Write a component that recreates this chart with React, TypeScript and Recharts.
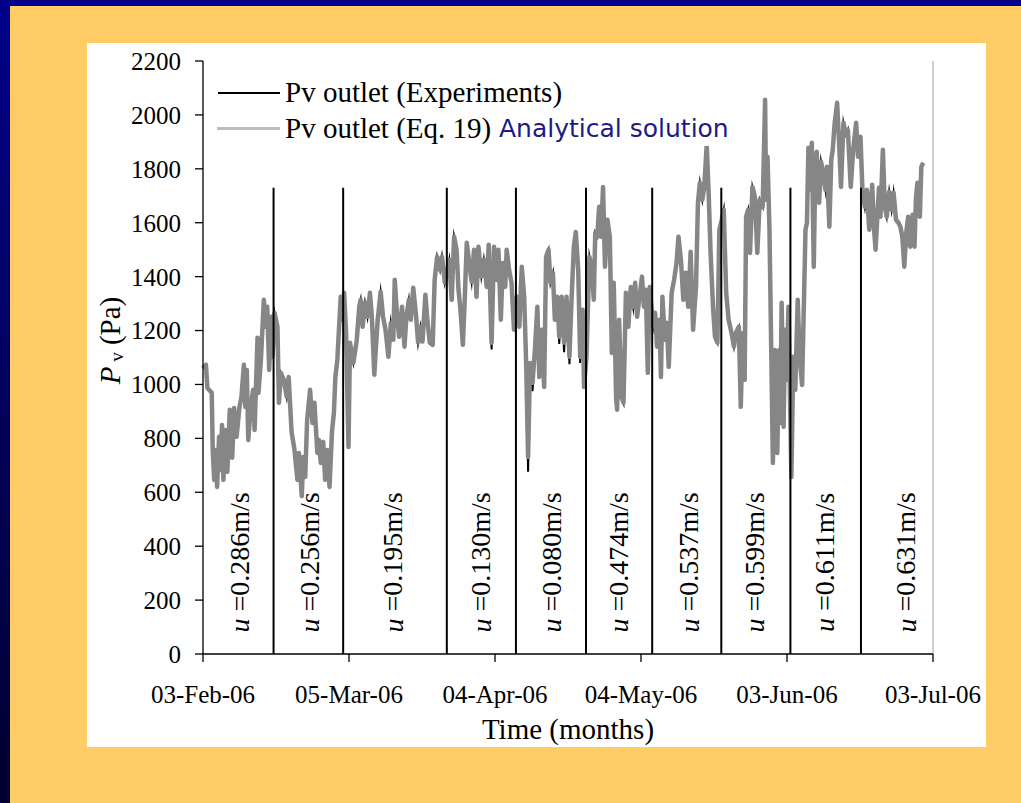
import { LineChart, Line, XAxis, YAxis, ReferenceLine, ReferenceDot, Legend } from 'recharts'

// days since 03-Feb-06
const days = [
  0.0, 0.6, 0.9, 1.8, 2.0, 2.3, 2.5, 2.9, 3.3, 3.6,
  3.9, 4.2, 4.6, 5.0, 5.5, 6.0, 6.4, 6.9, 7.5, 7.9,
  8.4, 8.7, 9.0, 9.3, 9.8, 10.3, 10.6, 11.2, 11.4, 11.9,
  12.5, 12.9, 13.2, 13.6, 14.0, 14.3, 14.7, 15.3, 15.6, 16.0,
  16.6, 17.2, 17.6, 18.2, 18.8, 19.4, 19.7, 20.3, 20.6, 21.0,
  21.4, 22.0, 22.5, 22.9, 23.5, 23.8, 24.2, 24.7, 25.1, 25.5,
  26.0, 26.5, 26.9, 27.2, 27.6, 27.9, 28.3, 28.7, 29.0, 29.4,
  29.9, 30.2, 30.9, 31.6, 32.1, 32.4, 32.8, 33.3, 33.8, 34.3,
  34.7, 35.2, 35.5, 35.9, 36.5, 37.0, 37.5, 38.1, 38.6, 39.1,
  39.4, 39.9, 40.3, 40.9, 41.4, 41.8, 42.3, 42.7, 43.2, 43.8,
  44.2, 44.7, 45.1, 45.7, 46.1, 46.6, 47.2, 47.6, 48.1, 48.7,
  49.1, 49.7, 50.6, 51.1, 51.6, 52.1, 52.5, 52.9, 53.4, 53.8,
  54.2, 54.7, 55.2, 55.7, 56.2, 56.6, 57.2, 57.7, 58.3, 58.7,
  59.3, 59.8, 60.3, 60.7, 61.2, 61.6, 62.1, 62.4, 62.9, 63.4,
  63.9, 64.5, 65.0, 65.5, 66.0, 66.4, 66.8, 67.2, 67.7, 68.2,
  68.7, 69.1, 69.6, 70.1, 70.5, 71.0, 71.4, 71.9, 72.3, 72.8,
  73.2, 73.7, 74.2, 74.7, 75.3, 75.7, 76.2, 76.6, 77.1, 77.5,
  78.0, 78.3, 78.8, 79.4, 79.9, 80.3, 80.6, 81.0, 81.4, 81.8,
  82.2, 82.6, 83.1, 83.6, 84.0, 84.4, 84.9, 85.1, 85.5, 86.0,
  86.4, 86.9, 87.4, 87.9, 88.4, 88.8, 89.2, 89.8, 90.2, 90.6,
  91.0, 91.4, 91.8, 92.5, 92.9, 93.3, 93.8, 94.1, 94.4, 94.9,
  95.3, 95.7, 96.3, 96.8, 97.3, 97.7, 98.2, 98.7, 99.2, 99.7,
  100.2, 100.7, 101.3, 101.7, 102.1, 102.6, 103.0, 103.5, 103.9, 104.3,
  104.8, 105.2, 105.7, 106.1, 106.6, 107.0, 107.5, 108.0, 108.6, 109.1,
  109.5, 110.1, 110.5, 110.9, 111.3, 111.6, 112.0, 112.4, 112.9, 113.4,
  113.9, 114.4, 115.0, 115.5, 115.7, 116.0, 116.4, 116.7, 117.1, 117.5,
  117.8, 118.0, 118.4, 118.6, 118.9, 119.3, 119.6, 119.9, 120.3, 120.9,
  121.3, 121.7, 122.2, 122.6, 123.1, 123.4, 123.8, 124.1, 124.4, 124.8,
  125.1, 125.5, 125.8, 126.1, 126.6, 127.0, 127.4, 127.9, 128.2, 128.7,
  129.1, 129.4, 129.8, 130.3, 130.7, 131.1, 131.6, 132.1, 132.5, 133.1,
  133.6, 134.2, 134.6, 135.1, 135.5, 136.0, 136.4, 136.9, 137.5, 137.9,
  138.2, 138.9, 139.2, 139.7, 140.1, 140.5, 141.0, 141.5, 141.9, 142.4,
  142.9, 143.3, 143.7, 144.1, 144.5, 144.9, 145.3, 145.8, 146.2, 146.5,
  146.8, 147.3, 147.6, 148.0,
]

// Pv outlet (Eq. 19), Pa
const pvEq = [
  1060, 1073, 987, 969, 757, 646, 757, 620, 806, 683,
  850, 646, 831, 676, 906, 728, 913, 806, 917, 954,
  1073, 917, 1054, 794, 917, 980, 831, 1173, 969, 1091,
  1314, 1214, 1288, 1054, 1251, 1103, 1266, 1214, 932, 1043,
  1017, 954, 1028, 824, 757, 646, 746, 586, 731, 657,
  869, 980, 857, 932, 746, 794, 709, 787, 646, 757,
  620, 824, 895, 1028, 1091, 1191, 1325, 1240, 1340, 1191,
  768, 1155, 1080, 1166, 1288, 1314, 1214, 1303, 1251, 1340,
  1251, 1036, 1128, 1240, 1344, 1251, 1203, 1103, 1229, 1166,
  1388, 1251, 1177, 1288, 1140, 1251, 1314, 1240, 1359, 1251,
  1155, 1214, 1159, 1333, 1240, 1155, 1147, 1388, 1474, 1425,
  1474, 1377, 1463, 1314, 1548, 1500, 1351, 1277, 1147, 1325,
  1526, 1451, 1381, 1500, 1325, 1511, 1400, 1463, 1362, 1518,
  1155, 1511, 1388, 1500, 1240, 1451, 1362, 1500, 1425, 1377,
  1203, 1325, 1214, 1437, 1325, 1080, 731, 1080, 1006, 1128,
  1288, 1028, 1203, 991, 1474, 1500, 1377, 1414, 1240, 1325,
  1177, 1325, 1155, 1325, 1103, 1303, 1511, 1566, 1425, 1103,
  1277, 991, 1103, 1474, 1425, 1314, 1563, 1548, 1659, 1548,
  1733, 1437, 1611, 1548, 1117, 1377, 943, 906, 1240, 954,
  932, 1340, 1214, 1362, 1288, 1377, 1251, 1340, 1400, 1288,
  1351, 1043, 1362, 1214, 1266, 1140, 1240, 1028, 1325, 1166,
  1229, 1065, 1340, 1388, 1451, 1548, 1463, 1314, 1414, 1288,
  1492, 1203, 1362, 1674, 1748, 1685, 1733, 1889, 1711, 1488,
  1288, 1177, 1155, 1574, 1611, 1648, 1340, 1240, 1191, 1140,
  1191, 1214, 917, 1191, 1017, 1622, 1648, 1488, 1733, 1696,
  1488, 1685, 1659, 2056, 1685, 1845, 1574, 1203, 709, 1128,
  1006, 746, 1128, 857, 1303, 843, 1203, 1017, 1288, 657,
  1103, 980, 1314, 1103, 998, 1240, 1574, 1600, 1878, 1722,
  1897, 1437, 1785, 1863, 1674, 1826, 1785, 1722, 1808, 1585,
  1834, 1871, 1971, 2045, 1897, 1733, 1971, 1927, 1945, 1733,
  1871, 1971, 1845, 1919, 1722, 1659, 1722, 1574, 1741, 1574,
  1500, 1730, 1622, 1871, 1659, 1622, 1715, 1648, 1711, 1611,
  1600, 1585, 1548, 1437, 1563, 1622, 1511, 1630, 1511, 1693,
  1748, 1622, 1808, 1822,
]

// Pv outlet (Experiments), Pa
const pvExp = [
  1060, 1073, 987, 969, 757, 646, 757, 620, 806, 683,
  850, 646, 831, 676, 906, 728, 913, 806, 917, 954,
  1073, 917, 1054, 794, 917, 980, 831, 1173, 969, 1091,
  1314, 1214, 1288, 1054, 1251, 1103, 1266, 1214, 932, 1043,
  1017, 954, 1028, 824, 757, 646, 746, 586, 731, 657,
  869, 980, 857, 932, 746, 794, 709, 787, 646, 757,
  620, 824, 895, 1028, 1091, 1191, 1325, 1240, 1340, 1191,
  768, 1155, 1080, 1166, 1288, 1314, 1214, 1303, 1251, 1340,
  1251, 1036, 1128, 1240, 1344, 1251, 1203, 1103, 1229, 1166,
  1388, 1251, 1177, 1288, 1140, 1251, 1314, 1240, 1359, 1251,
  1155, 1214, 1159, 1333, 1240, 1155, 1147, 1388, 1474, 1425,
  1474, 1377, 1463, 1314, 1548, 1500, 1351, 1277, 1147, 1325,
  1526, 1451, 1381, 1500, 1325, 1511, 1400, 1463, 1362, 1518,
  1130, 1511, 1388, 1500, 1240, 1451, 1362, 1500, 1425, 1377,
  1203, 1325, 1214, 1437, 1325, 1080, 676, 1080, 975, 1095,
  1288, 1028, 1203, 991, 1474, 1500, 1377, 1414, 1240, 1325,
  1150, 1325, 1120, 1325, 1075, 1303, 1511, 1566, 1425, 1080,
  1277, 991, 1103, 1474, 1425, 1314, 1563, 1548, 1659, 1548,
  1733, 1437, 1611, 1548, 1117, 1377, 943, 906, 1240, 954,
  932, 1340, 1214, 1362, 1288, 1377, 1251, 1340, 1400, 1288,
  1351, 1043, 1362, 1214, 1266, 1140, 1240, 1028, 1325, 1166,
  1229, 1065, 1340, 1388, 1451, 1548, 1463, 1314, 1414, 1288,
  1492, 1203, 1362, 1674, 1748, 1685, 1733, 1889, 1711, 1488,
  1288, 1177, 1155, 1574, 1611, 1648, 1340, 1240, 1191, 1140,
  1191, 1214, 917, 1191, 1017, 1622, 1648, 1488, 1733, 1696,
  1488, 1685, 1659, 2056, 1685, 1845, 1574, 1203, 709, 1128,
  1006, 746, 1128, 857, 1303, 843, 1203, 1017, 1288, 657,
  1103, 980, 1314, 1103, 998, 1240, 1574, 1600, 1878, 1722,
  1897, 1437, 1785, 1863, 1674, 1826, 1785, 1722, 1808, 1585,
  1834, 1871, 1971, 2045, 1897, 1733, 1971, 1927, 1945, 1733,
  1871, 1971, 1845, 1919, 1722, 1659, 1722, 1574, 1741, 1574,
  1500, 1730, 1622, 1871, 1659, 1622, 1715, 1648, 1711, 1611,
  1600, 1585, 1548, 1437, 1563, 1622, 1511, 1630, 1511, 1693,
  1748, 1622, 1808, 1822,
]

// velocity change dates (days) and the velocity of each period
const changeDays = [14.5, 28.8, 50.1, 64.3, 78.7, 92.3, 106.5, 120.7, 135.2]
const changeTop = 1730
const uLabels = ['0.286', '0.256', '0.195', '0.130', '0.080', '0.474', '0.537', '0.599', '0.611', '0.631']
const uLabelDays = [7.4, 21.8, 39.0, 57.1, 71.6, 85.3, 99.8, 113.3, 127.7, 144.4]
const uLabelY = 340

const xTicks = [0, 30, 60, 90, 120, 150]
const xTickLabels = ['03-Feb-06', '05-Mar-06', '04-Apr-06', '04-May-06', '03-Jun-06', '03-Jul-06']
const yTicks = [0, 200, 400, 600, 800, 1000, 1200, 1400, 1600, 1800, 2000, 2200]

const serif = '"Liberation Serif", "Times New Roman", serif'

function LegendBox() {
  return (
    <div style={{ position: 'relative', fontFamily: serif, fontSize: 29, color: '#000', lineHeight: '35.5px', whiteSpace: 'nowrap' }}>
      <div style={{ display: 'flex', alignItems: 'center', height: 35.5 }}>
        <span style={{ display: 'inline-block', width: 62, height: 2, background: '#000', marginRight: 5, marginLeft: 1 }} />
        Pv outlet (Experiments)
      </div>
      <div style={{ display: 'flex', alignItems: 'center', height: 35.5 }}>
        <span style={{ display: 'inline-block', width: 63, height: 3.5, background: '#bdbdbd', marginRight: 5 }} />
        Pv outlet (Eq. 19)
      </div>
      <div style={{ position: 'absolute', left: 274, top: 35.5, height: 35.5, paddingLeft: 8, paddingRight: 4, background: '#fff', display: 'flex', alignItems: 'center', fontFamily: '"DejaVu Sans", sans-serif', fontSize: 25, color: '#1b1b86' }}>
        Analytical solution
      </div>
    </div>
  )
}

export default function App() {
  const data = days.map((d, i) => ({ day: d, exp: pvExp[i], eq: pvEq[i] }))
  return (
    <div style={{ position: 'absolute', left: 0, top: 0, width: 1021, height: 803, background: '#FFCC66', overflow: 'hidden' }}>
      <div style={{ position: 'absolute', left: 0, top: 0, width: 1021, height: 6, background: '#00008B' }} />
      <div style={{ position: 'absolute', left: 0, top: 0, width: 10, height: 803, background: 'linear-gradient(#00008B, #000030)' }} />
      <div style={{ position: 'absolute', left: 87, top: 43, width: 899, height: 704, background: '#fff' }}>
        <LineChart width={899} height={704} data={data} margin={{ top: 18, right: 53, left: 0, bottom: 0 }}>
          <XAxis
            type="number" dataKey="day" domain={[0, 150]} ticks={xTicks} interval={0}
            tickFormatter={(v: number) => xTickLabels[xTicks.indexOf(v)]}
            height={93} tickSize={8} tickMargin={23} stroke="#000" strokeWidth={1.3}
            tick={{ fill: '#000', fontSize: 25, fontFamily: serif }}
            label={{ value: 'Time (months)', position: 'insideBottom', offset: 8, fill: '#000', fontSize: 29, fontFamily: serif }}
          />
          <YAxis
            type="number" domain={[0, 2200]} ticks={yTicks} interval={0}
            width={116} tickSize={8} tickMargin={14} stroke="#000" strokeWidth={1.3}
            tick={{ fill: '#000', fontSize: 25, fontFamily: serif }}
            label={{
              content: (p: any) => {
                const vb = p.viewBox
                const cx = vb.x + 23
                const cy = vb.y + vb.height / 2 - 17
                return (
                  <text x={cx} y={cy} transform={`rotate(-90 ${cx} ${cy})`} textAnchor="middle" dominantBaseline="central" fontFamily={serif} fontSize={29} fill="#000">
                    <tspan fontStyle="italic">P</tspan>
                    <tspan fontSize={19} dy={6}> v</tspan>
                    <tspan dy={-6}> (Pa)</tspan>
                  </text>
                )
              },
            }}
          />
          <Legend layout="vertical" align="center" verticalAlign="middle" wrapperStyle={{ left: 130, top: 32 }} content={() => <LegendBox />} />
          <Line type="linear" dataKey="exp" stroke="#000" strokeWidth={2} strokeLinejoin="miter" strokeMiterlimit={10} dot={false} isAnimationActive={false} />
          <Line type="linear" dataKey="eq" stroke="#868686" strokeWidth={4.5} strokeLinejoin="round" dot={false} isAnimationActive={false} />
          <ReferenceLine x={150} stroke="#a0a0a0" strokeWidth={1} />
          {changeDays.map(d => (
            <ReferenceLine key={d} segment={[{ x: d, y: 0 }, { x: d, y: changeTop }]} stroke="#000" strokeWidth={2} />
          ))}
          {uLabelDays.map((d, i) => (
            <ReferenceDot
              key={'u' + i} x={d} y={uLabelY} r={0}
              shape={(p: any) => (
                <text x={p.cx} y={p.cy} transform={`rotate(-90 ${p.cx} ${p.cy})`} textAnchor="middle" dominantBaseline="central" fontFamily={serif} fontSize={28} fill="#000">
                  <tspan fontStyle="italic">u</tspan>{` =${uLabels[i]}m/s`}
                </text>
              )}
            />
          ))}
        </LineChart>
      </div>
    </div>
  )
}
